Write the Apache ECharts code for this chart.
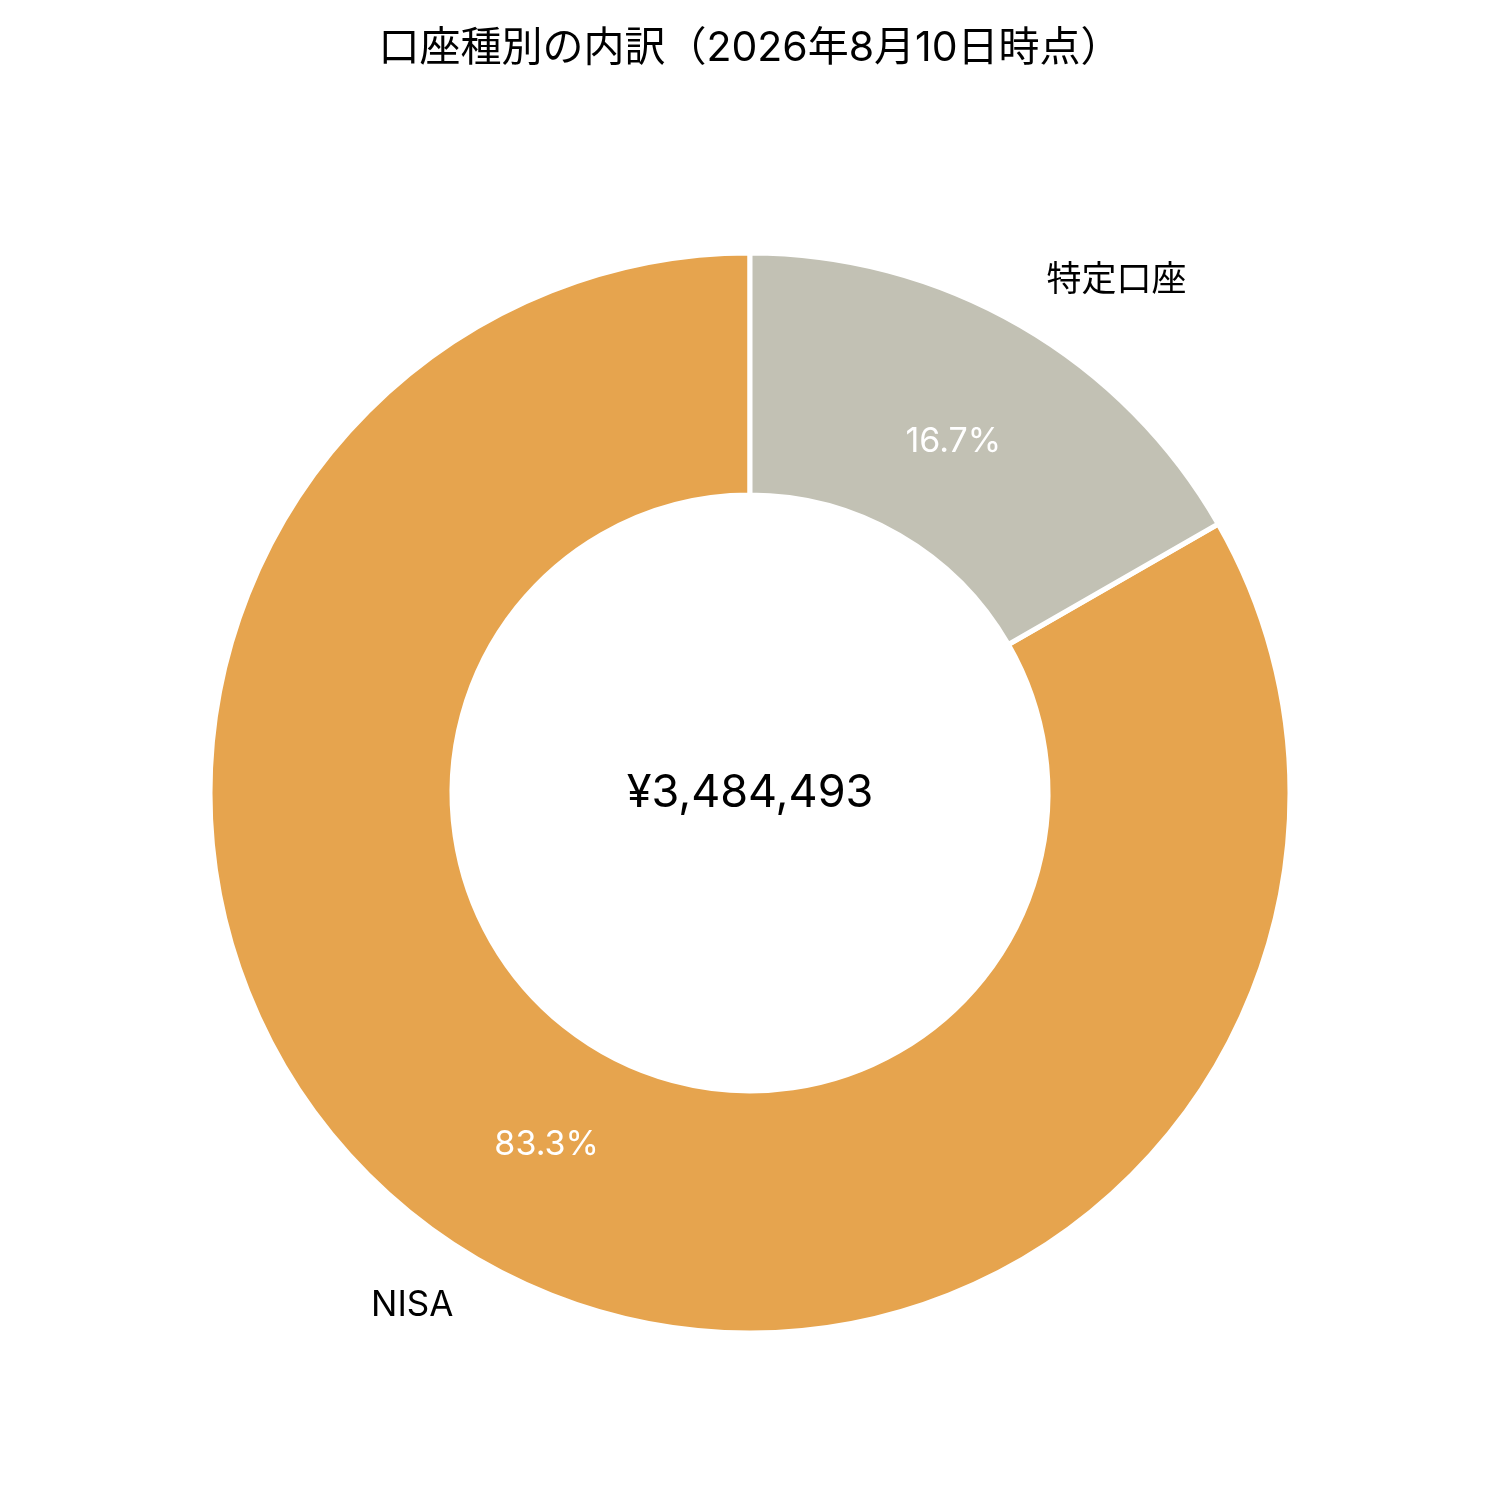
<!DOCTYPE html>
<html><head><meta charset="utf-8">
<script src="https://cdn.jsdelivr.net/npm/echarts@6/dist/echarts.min.js"></script>
<style>html,body{margin:0;padding:0;background:#fff}#c{width:1500px;height:1500px}</style>
</head><body><div id="c"></div>
<script>
const titleText = '口座種別の内訳（2026年8月10日時点）';
const categories = ['NISA', '特定口座'];
const values = [2902583, 581910];
const colors = ['#E6A44E', '#C2C1B4'];

const total = values.reduce((a, b) => a + b, 0);
const data = categories.map((c, i) => ({ name: c, value: values[i], itemStyle: { color: colors[i] } }));
const font = 'Inter, "Noto Sans CJK JP", sans-serif';
const CX = 750, CY = 793, R0 = 298, R = 540;

const chart = echarts.init(document.getElementById('c'), null, { renderer: 'canvas' });
chart.setOption({
  animation: false,
  backgroundColor: '#ffffff',
  title: {
    text: titleText, left: 'center', top: 23,
    textStyle: { fontFamily: font, fontSize: 41, fontWeight: 'normal', color: '#000' }
  },
  graphic: [{
    type: 'text', x: CX, y: CY,
    style: { text: '¥' + total.toLocaleString('en-US'), fontFamily: font, fontSize: 45,
      fill: '#000', textAlign: 'center', textVerticalAlign: 'middle' }
  }],
  series: [
    {
      type: 'pie', center: [CX, CY], radius: [R0, R],
      startAngle: 90, clockwise: false, avoidLabelOverlap: false, silent: true,
      itemStyle: { borderColor: '#fff', borderWidth: 5 },
      label: { show: true, position: 'outside', fontFamily: font, fontSize: 35, color: '#000',
        distanceToLabelLine: 0, formatter: '{b}' },
      labelLine: { show: false, length: 52, length2: 0 },
      emphasis: { disabled: true },
      data: data
    },
    {
      type: 'pie', center: [CX, CY], radius: [268, R - 2],
      startAngle: 90, clockwise: false, avoidLabelOverlap: false, silent: true,
      itemStyle: { color: 'transparent', borderWidth: 0 },
      label: { show: true, position: 'inside', fontFamily: font, fontSize: 34, color: '#fff',
        formatter: p => (p.value / total * 100).toFixed(1) + '%' },
      labelLine: { show: false },
      emphasis: { disabled: true },
      data: categories.map((c, i) => ({ name: c, value: values[i] }))
    }
  ]
});
</script></body></html>
